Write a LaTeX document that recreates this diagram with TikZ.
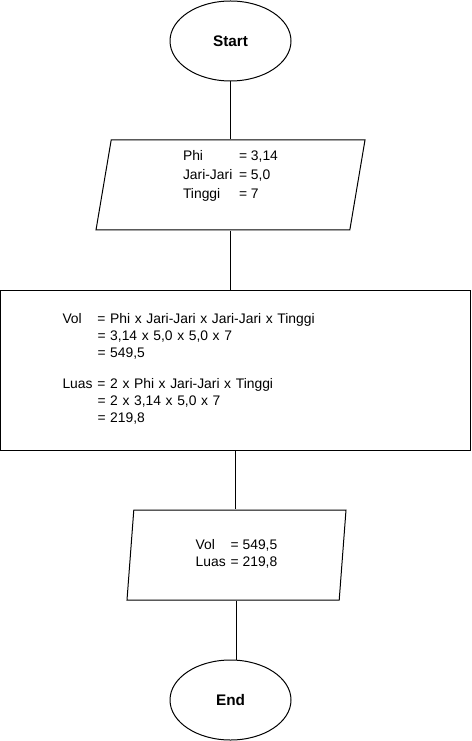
\documentclass[tikz,border=0pt]{standalone}
\usepackage{fontspec}
\setmainfont{Liberation Sans}
\usepackage{tikz}
\usetikzlibrary{shapes.geometric, arrows}
\newcommand{\pxu}{0.75pt}
\tikzstyle{startstop} = [ellipse, minimum width=90.75pt, minimum height=60pt, inner sep=0pt, draw=black, line width=\pxu, font=\fontsize{11.5}{14}\selectfont\bfseries]
\tikzstyle{io} = [trapezium, trapezium left angle=78.7, trapezium right angle=101.3, trapezium stretches body, minimum width=201.75pt, minimum height=67.5pt, inner sep=0pt, draw=black, line width=\pxu, font=\fontsize{10.4}{12.75}\selectfont]
\tikzstyle{process} = [rectangle, minimum width=352.5pt, minimum height=120pt, text width=259.5pt, inner xsep=46.5pt, align=left, draw=black, line width=\pxu, font=\fontsize{10.4}{12.75}\selectfont]
\tikzstyle{line} = [draw=black, line width=\pxu]

\begin{document}
\begin{tikzpicture}
			[x=\pxu, y=-\pxu]
			\useasboundingbox (0,0) rectangle (471,741);

			\node (start) [startstop] at (230.5,41) {Start};
			\node (input) [io, node distance=108pt, below of = start, font=\fontsize{10.4}{14.25}\selectfont] {\begin{tabular}{@{}p{42pt}@{}l@{}}
				Phi & = 3,14\\
				Jari-Jari & = 5,0\\
				Tinggi & = 7\\
				& \mbox{}
			\end{tabular}};
			\node (calc) [process, node distance=138.75pt, below of = input, xshift=3.75pt] {\begin{tabular}{@{}p{26.25pt}@{}l@{}}
				Vol & = Phi x Jari-Jari x Jari-Jari x Tinggi\\
				& = 3,14 x 5,0 x 5,0 x 7\\
				& = 549,5\\[10.5pt]
				Luas & = 2 x Phi x Jari-Jari x Tinggi\\
				& = 2 x 3,14 x 5,0 x 7\\
				& = 219,8
			\end{tabular}};
			\node (output) [io, minimum width=164.25pt, node distance=138.75pt, below of = calc, xshift=0.75pt] {\begin{tabular}{@{}p{26.25pt}@{}l@{}}
				Vol & = 549,5\\
				Luas & = 219,8
			\end{tabular}};
			\node (stop) [startstop, node distance=108.75pt, below of = output, xshift=-4.5pt] {End};

			\draw [line] (start) -- (input);
			\draw [line] (input.south) -- (input.south |- calc.north);
			\draw [line] (calc.south) -- (calc.south |- output.north);
			\draw [line] (output.south) -- (output.south |- stop.north);

			\end{tikzpicture}
\end{document}
